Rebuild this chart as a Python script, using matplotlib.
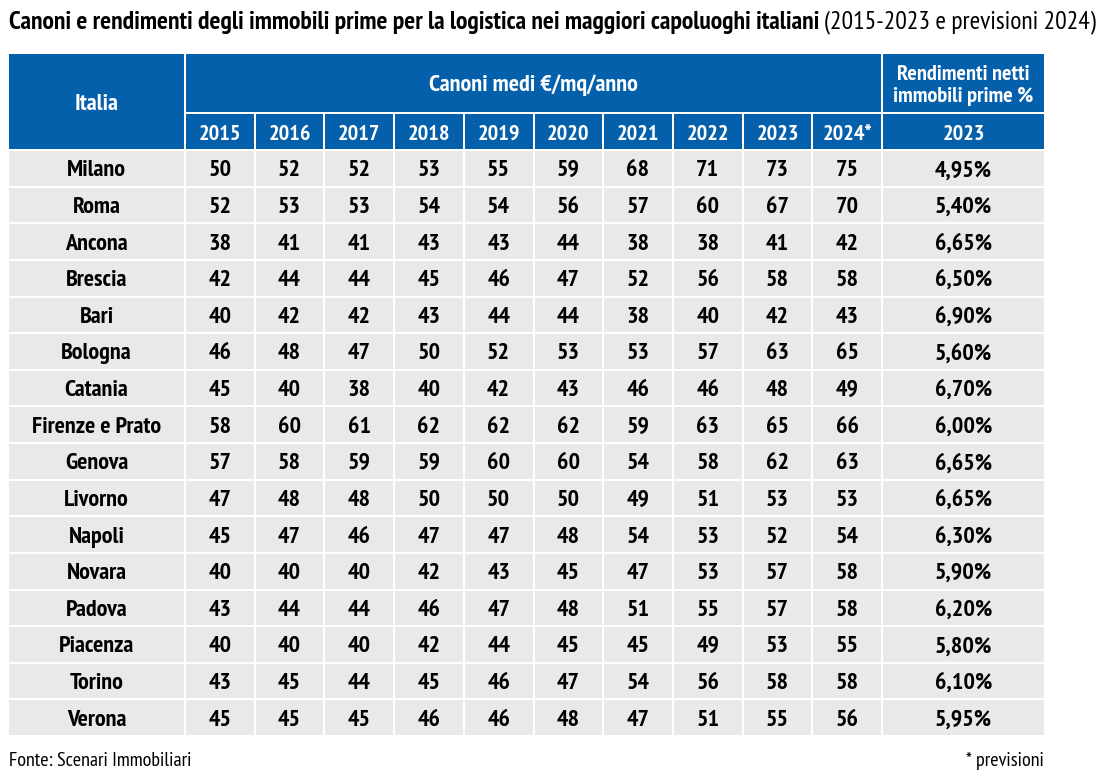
import matplotlib
matplotlib.use("Agg")
import matplotlib.pyplot as plt
from matplotlib.patches import Rectangle
from matplotlib import font_manager

cities = ["Milano", "Roma", "Ancona", "Brescia", "Bari", "Bologna", "Catania",
          "Firenze e Prato", "Genova", "Livorno", "Napoli", "Novara", "Padova",
          "Piacenza", "Torino", "Verona"]
years = ["2015", "2016", "2017", "2018", "2019", "2020", "2021", "2022", "2023", "2024*"]
canoni = [
    [50, 52, 52, 53, 55, 59, 68, 71, 73, 75],
    [52, 53, 53, 54, 54, 56, 57, 60, 67, 70],
    [38, 41, 41, 43, 43, 44, 38, 38, 41, 42],
    [42, 44, 44, 45, 46, 47, 52, 56, 58, 58],
    [40, 42, 42, 43, 44, 44, 38, 40, 42, 43],
    [46, 48, 47, 50, 52, 53, 53, 57, 63, 65],
    [45, 40, 38, 40, 42, 43, 46, 46, 48, 49],
    [58, 60, 61, 62, 62, 62, 59, 63, 65, 66],
    [57, 58, 59, 59, 60, 60, 54, 58, 62, 63],
    [47, 48, 48, 50, 50, 50, 49, 51, 53, 53],
    [45, 47, 46, 47, 47, 48, 54, 53, 52, 54],
    [40, 40, 40, 42, 43, 45, 47, 53, 57, 58],
    [43, 44, 44, 46, 47, 48, 51, 55, 57, 58],
    [40, 40, 40, 42, 44, 45, 45, 49, 53, 55],
    [43, 45, 44, 45, 46, 47, 54, 56, 58, 58],
    [45, 45, 45, 46, 46, 48, 47, 51, 55, 56],
]
rendimenti = ["4,95%", "5,40%", "6,65%", "6,50%", "6,90%", "5,60%", "6,70%", "6,00%",
              "6,65%", "6,65%", "6,30%", "5,90%", "6,20%", "5,80%", "6,10%", "5,95%"]

# narrow font, first one that is installed
names = {f.name for f in font_manager.fontManager.ttflist}
wanted = ["PT Sans Narrow", "Roboto Condensed", "Asap Condensed", "Archivo Narrow"]
font = next((n for n in wanted if n in names), "DejaVu Sans")
plt.rcParams["font.family"] = [font, "DejaVu Sans"]

BLUE = "#0560ab"
GREY = "#e9e9e9"

W, H = 1105, 779
fig = plt.figure(figsize=(W / 100, H / 100), dpi=100)
ax = fig.add_axes([0, 0, 1, 1])
ax.set_xlim(0, W)
ax.set_ylim(H, 0)
ax.axis("off")

# layout (pixels)
x0, x_city, x_years, x_end = 9, 185, 882, 1044
col_w = (x_years - x_city) / len(years)
y_top, y_h1, y_h2, y_bot = 53, 113, 150, 736
row_h = (y_bot - y_h2) / len(cities)
gap = 1.0
FS = 17.4


def cell(x1, y1, x2, y2, fill, text, **kw):
    ax.add_patch(Rectangle((x1 + gap, y1 + gap), x2 - x1 - 2 * gap, y2 - y1 - 2 * gap,
                           facecolor=fill, edgecolor="none"))
    ax.text((x1 + x2) / 2, (y1 + y2) / 2 + 2.5, text, ha="center", va="center",
            fontweight="bold", **kw)


# header
cell(x0 - gap, y_top, x_city, y_h2, BLUE, "Italia", color="white", fontsize=FS)
cell(x_city, y_top, x_years, y_h1, BLUE, "Canoni medi €/mq/anno", color="white", fontsize=FS)
cell(x_years, y_top, x_end + gap, y_h1, BLUE, "Rendimenti netti\nimmobili prime %",
     color="white", fontsize=16, linespacing=1.2)
for j, yr in enumerate(years):
    cell(x_city + j * col_w, y_h1, x_city + (j + 1) * col_w, y_h2, BLUE, yr,
         color="white", fontsize=16)
cell(x_years, y_h1, x_end + gap, y_h2, BLUE, "2023", color="white", fontsize=16)

# body
for i, city in enumerate(cities):
    ya = y_h2 + i * row_h
    yb = ya + row_h
    cell(x0 - gap, ya, x_city, yb, GREY, city, color="black", fontsize=FS)
    for j, v in enumerate(canoni[i]):
        cell(x_city + j * col_w, ya, x_city + (j + 1) * col_w, yb, GREY, str(v),
             color="black", fontsize=FS)
    cell(x_years, ya, x_end + gap, yb, GREY, rendimenti[i], color="black", fontsize=FS)

# title: bold part then normal part, sized so it spans the same width as the reference
title_b = "Canoni e rendimenti degli immobili prime per la logistica nei maggiori capoluoghi italiani"
title_n = "(2015-2023 e previsioni 2024)"
tfs = 16
t1 = ax.text(x0, 22, title_b, ha="left", va="center", fontsize=tfs, fontweight="bold")
t2 = ax.text(0, 22, title_n, ha="left", va="center", fontsize=tfs)
fig.canvas.draw()
total = t1.get_window_extent().width + 5 + t2.get_window_extent().width
tfs = min(tfs * (1098 - x0) / total, 19)
t1.set_fontsize(tfs)
t2.set_fontsize(tfs)
fig.canvas.draw()
t2.set_x(x0 + t1.get_window_extent().width + 5)

ax.text(x0, 761, "Fonte: Scenari Immobiliari", ha="left", va="center", fontsize=14.5)
ax.text(x_end, 761, "* previsioni", ha="right", va="center", fontsize=14.5)

fig.savefig("out.png", dpi=100, facecolor="white")
